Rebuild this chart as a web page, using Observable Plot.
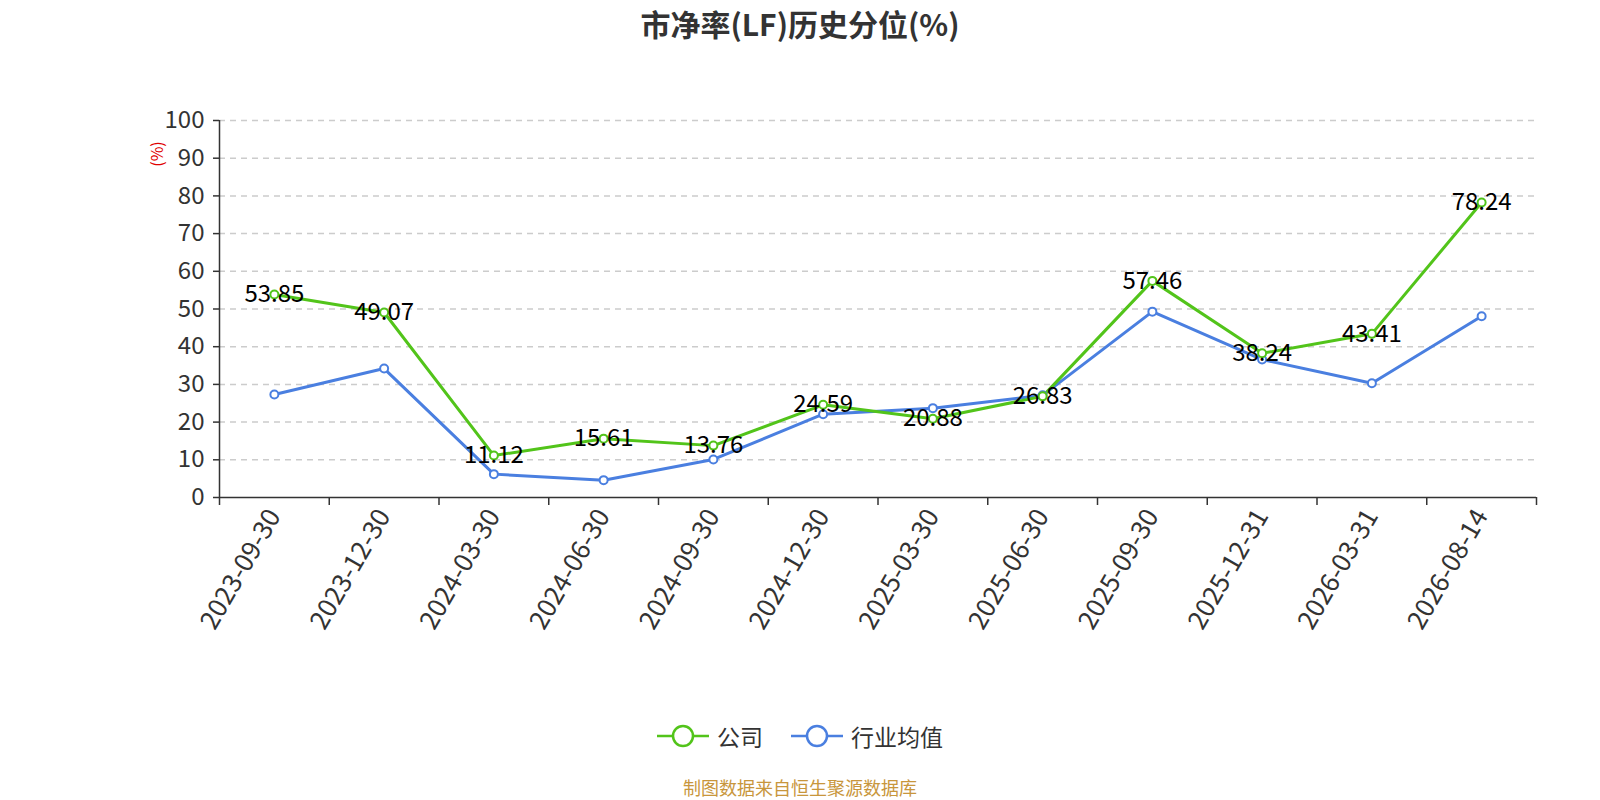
<!DOCTYPE html>
<html>
<head>
<meta charset="utf-8">
<script src="https://cdn.jsdelivr.net/npm/d3@7"></script>
<script src="https://cdn.jsdelivr.net/npm/@observablehq/plot@0.6"></script>
<style>
  html, body { margin: 0; padding: 0; background: #fff; }
  #wrap { position: relative; width: 1600px; height: 800px; font-family: "Noto Sans CJK SC", "Noto Sans", sans-serif; overflow: hidden; }
  #title { position: absolute; left: 0; top: 0; width: 1600px; height: 46px; line-height: 46px; text-align: center; font-size: 30px; font-weight: bold; color: #333; }
  #chart { position: absolute; left: 0; top: 45px; }
  #ylab { position: absolute; left: 143px; top: 142px; font-size: 16px; color: #e00000; transform: rotate(-90deg); transform-origin: center; }
  #legend { position: absolute; left: 0; top: 718px; width: 1600px; height: 36px; display: flex; justify-content: center; align-items: center; font-size: 23px; color: #333; }
  .item { display: flex; align-items: center; margin: 0 14px; }
  .item svg { margin-right: 8px; }
  #caption { position: absolute; left: 0; top: 776px; width: 1600px; height: 22px; line-height: 22px; text-align: center; font-size: 18px; color: #c8963c; }
</style>
</head>
<body>
<div id="wrap">
  <div id="title">市净率(LF)历史分位(%)</div>
  <div id="chart"></div>
  <div id="ylab">(%)</div>
  <div id="legend"></div>
  <div id="caption">制图数据来自恒生聚源数据库</div>
</div>
<script>
const categories = ["2023-09-30","2023-12-30","2024-03-30","2024-06-30","2024-09-30","2024-12-30","2025-03-30","2025-06-30","2025-09-30","2025-12-31","2026-03-31","2026-08-14"];
const companyValues = [53.85, 49.07, 11.12, 15.61, 13.76, 24.59, 20.88, 26.83, 57.46, 38.24, 43.41, 78.24];
const industryValues = [27.3, 34.2, 6.2, 4.6, 10.1, 22.1, 23.7, 27.1, 49.3, 36.6, 30.3, 48.1];
const seriesNames = ["公司", "行业均值"];
const seriesColors = ["#52c41a", "#4a7fe0"];
const yTicks = [0, 10, 20, 30, 40, 50, 60, 70, 80, 90, 100];

const company = categories.map((c, i) => ({i: i + 0.5, cat: c, v: companyValues[i]}));
const industry = categories.map((c, i) => ({i: i + 0.5, cat: c, v: industryValues[i]}));
const boundaries = d3.range(categories.length + 1);
const centers = categories.map((c, i) => i + 0.5);

const chart = Plot.plot({
  width: 1600,
  height: 640,
  marginLeft: 219,
  marginRight: 64,
  marginTop: 75,
  marginBottom: 188,
  style: {fontFamily: '"Noto Sans CJK SC", "Noto Sans", sans-serif', background: "transparent"},
  x: {type: "linear", domain: [0, categories.length]},
  y: {domain: [0, 100]},
  marks: [
    Plot.gridY(yTicks.filter(t => t > 0), {stroke: "#ccc", strokeOpacity: 1, strokeDasharray: "6,5", strokeWidth: 1.5}),
    Plot.axisY(yTicks, {tickSize: 6, tickPadding: 9, fontSize: 24, fill: "#333", stroke: "#333", strokeWidth: 1.5, label: null}),
    Plot.axisX(boundaries, {tickSize: 8, tickFormat: () => "", stroke: "#333", strokeWidth: 1.5, label: null}),
    Plot.axisX(centers, {tickSize: 0, tickPadding: 14, tickRotate: -60, fontSize: 26, fill: "#333", tickFormat: d => categories[Math.round(d - 0.5)], label: null}),
    Plot.ruleX([0], {stroke: "#333", strokeWidth: 1.5}),
    Plot.ruleY([0], {stroke: "#333", strokeWidth: 1.5}),
    Plot.line(industry, {x: "i", y: "v", stroke: seriesColors[1], strokeWidth: 3}),
    Plot.line(company, {x: "i", y: "v", stroke: seriesColors[0], strokeWidth: 3}),
    Plot.dot(industry, {x: "i", y: "v", r: 4, fill: "white", stroke: seriesColors[1], strokeWidth: 2}),
    Plot.dot(company, {x: "i", y: "v", r: 4, fill: "white", stroke: seriesColors[0], strokeWidth: 2}),
    Plot.text(company, {x: "i", y: "v", text: d => d.v.toFixed(2), fontSize: 24, fill: "#000", lineAnchor: "middle"})
  ]
});
document.getElementById("chart").appendChild(chart);

const legend = document.getElementById("legend");
seriesNames.forEach((name, k) => {
  const item = document.createElement("div");
  item.className = "item";
  item.innerHTML = `<svg width="52" height="26"><line x1="0" y1="13" x2="52" y2="13" stroke="${seriesColors[k]}" stroke-width="2.5"/><circle cx="26" cy="13" r="10" fill="white" stroke="${seriesColors[k]}" stroke-width="2.5"/></svg><span>${name}</span>`;
  legend.appendChild(item);
});
</script>
</body>
</html>
